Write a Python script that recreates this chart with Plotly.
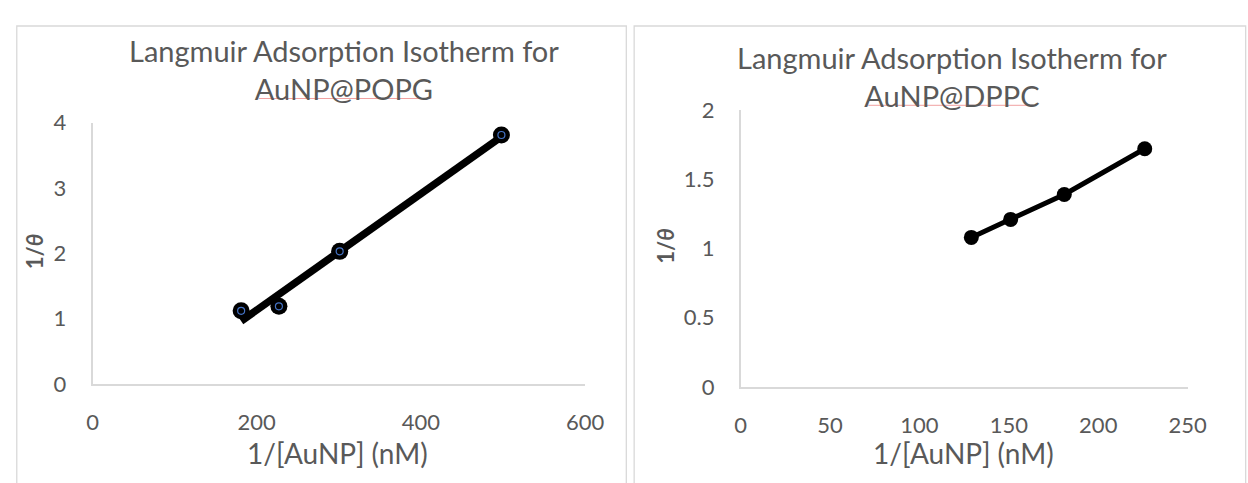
import numpy as np
import plotly.graph_objects as go

W, H = 1248, 483

# ---- data ----
popg_x = [181, 227, 301, 498]
popg_y = [1.12, 1.19, 2.03, 3.81]
dppc_x = [129, 151, 181, 226]
dppc_y = [1.08, 1.21, 1.39, 1.72]

left_title = "Langmuir Adsorption Isotherm for<br>AuNP@POPG"
right_title = "Langmuir Adsorption Isotherm for<br>AuNP@DPPC"
x_title = "1/[AuNP] (nM)"
y_title = "<b>1/<i>θ</i></b>"
left_xticks = [0, 200, 400, 600]
left_yticks = [0, 1, 2, 3, 4]
right_xticks = [0, 50, 100, 150, 200, 250]
right_yticks = [0, 0.5, 1, 1.5, 2]

FONT = "Lato"
GRAY = "#595959"

def px(x):
    return x / W

def py(y):
    return (H - y) / H

# linear trendline for POPG (least squares from the data)
slope, icpt = np.polyfit(popg_x, popg_y, 1)
trend_x = [min(popg_x), max(popg_x)]
trend_y = [slope * v + icpt for v in trend_x]

fig = go.Figure()

# left panel
fig.add_trace(go.Scatter(x=trend_x, y=trend_y, mode="lines",
                         line=dict(color="black", width=7.5),
                         xaxis="x", yaxis="y", showlegend=False, hoverinfo="skip"))
fig.add_trace(go.Scatter(x=popg_x, y=popg_y, mode="markers",
                         marker=dict(color="black", size=17, line=dict(width=0)),
                         xaxis="x", yaxis="y", showlegend=False))
fig.add_trace(go.Scatter(x=popg_x, y=popg_y, mode="markers",
                         marker=dict(symbol="circle-open", color="#4472C4", size=7,
                                     line=dict(width=1.2, color="#4472C4")),
                         xaxis="x", yaxis="y", showlegend=False, hoverinfo="skip"))

# right panel
fig.add_trace(go.Scatter(x=dppc_x, y=dppc_y, mode="lines+markers",
                         line=dict(color="black", width=5),
                         marker=dict(color="black", size=15),
                         xaxis="x2", yaxis="y2", showlegend=False))

axis_common = dict(showgrid=False, zeroline=False, showline=True,
                   linecolor="#d9d9d9", linewidth=1.5,
                   tickfont=dict(family=FONT, size=22, color=GRAY),
                   ticks="outside", tickcolor="rgba(0,0,0,0)")

fig.update_layout(
    width=W, height=H,
    margin=dict(l=0, r=0, t=0, b=0),
    paper_bgcolor="white", plot_bgcolor="white",
    font=dict(family=FONT, color=GRAY),
    xaxis=dict(domain=[px(88.3), px(591)], range=[0, 600], tickvals=left_xticks,
               anchor="y", ticklen=18, **axis_common),
    yaxis=dict(domain=[py(392), py(115)], range=[0, 4], tickvals=left_yticks,
               anchor="x", ticklen=20, **axis_common),
    xaxis2=dict(domain=[px(749.7), px(1205.8)], range=[0, 250], tickvals=right_xticks,
                anchor="y2", ticklen=18, **axis_common),
    yaxis2=dict(domain=[py(395), py(101.7)], range=[0, 2], tickvals=right_yticks,
                anchor="x2", ticklen=20, **axis_common),
)

annots = [
    dict(text=left_title, x=px(345), y=py(59), size=29, angle=0),
    dict(text=right_title, x=px(965), y=py(66), size=29, angle=0),
    dict(text=x_title, x=px(338), y=py(465), size=28, angle=0),
    dict(text=x_title, x=px(977), y=py(465), size=28, angle=0),
    dict(text=y_title, x=px(30), y=py(252), size=22, angle=-90),
    dict(text=y_title, x=px(673), y=py(246), size=22, angle=-90),
]
for a in annots:
    fig.add_annotation(xref="paper", yref="paper", showarrow=False,
                       xanchor="center", yanchor="middle",
                       font=dict(family=FONT, color=GRAY, size=a["size"]),
                       text=a["text"], x=a["x"], y=a["y"],
                       textangle=a["angle"])

# panel borders
fig.add_shape(type="rect", xref="paper", yref="paper",
              x0=px(11), x1=px(633), y0=py(500), y1=py(12.7),
              line=dict(color="#d9d9d9", width=1.3), layer="below")
fig.add_shape(type="rect", xref="paper", yref="paper",
              x0=px(641), x1=px(1265), y0=py(500), y1=py(12.7),
              line=dict(color="#d9d9d9", width=1.3), layer="below")

# spell-check underlines under the second title lines
fig.add_shape(type="line", xref="paper", yref="paper",
              x0=px(258), x1=px(434), y0=py(89.5), y1=py(89.5),
              line=dict(color="#f0a0a0", width=1))
fig.add_shape(type="line", xref="paper", yref="paper",
              x0=px(880), x1=px(1051), y0=py(96.7), y1=py(96.7),
              line=dict(color="#f0a0a0", width=1))

fig.write_html("out.html",
               config={"displayModeBar": False},
               post_script="document.body.style.margin='0';document.body.style.overflow='hidden';")
